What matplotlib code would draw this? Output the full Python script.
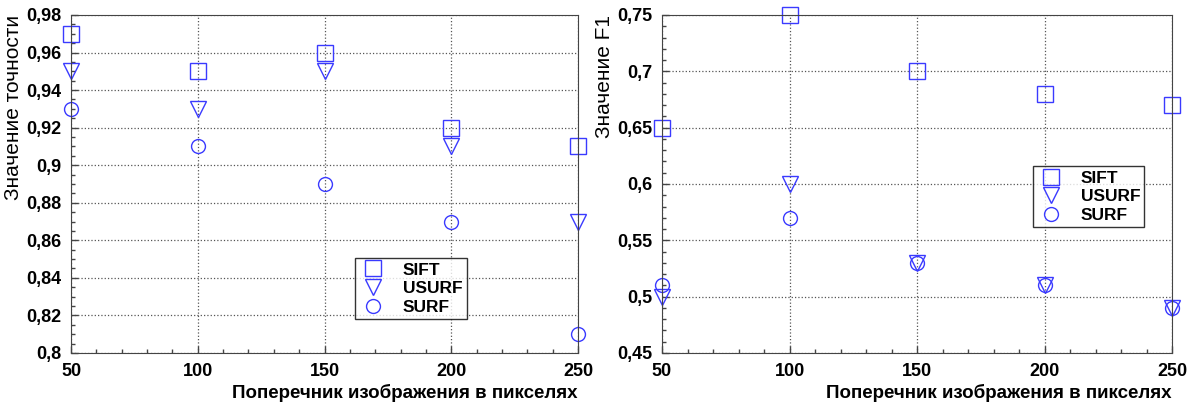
import numpy as np
import matplotlib.pyplot as plt
from matplotlib.ticker import MultipleLocator, FuncFormatter

plt.rcParams['font.family'] = ['Liberation Sans', 'DejaVu Sans']
plt.rcParams['font.weight'] = 'bold'

sizes = [50, 100, 150, 200, 250]

# точность
acc_sift = [0.97, 0.95, 0.96, 0.92, 0.91]
acc_usurf = [0.95, 0.93, 0.95, 0.91, 0.87]
acc_surf = [0.93, 0.91, 0.89, 0.87, 0.81]

# F1
f1_sift = [0.65, 0.75, 0.70, 0.68, 0.67]
f1_usurf = [0.50, 0.60, 0.53, 0.51, 0.49]
f1_surf = [0.51, 0.57, 0.53, 0.51, 0.49]

blue = '#3a3aff'


def comma_fmt(v, pos):
    s = ('%.2f' % v).rstrip('0').rstrip('.')
    return s.replace('.', ',')


def draw(ax, sift, usurf, surf, ylim, ymajor, yminor, ylabel, legend_pos):
    ms = 11
    ax.plot(sizes, sift, 's', ms=ms, mfc='none', mec=blue, mew=1, label='SIFT', clip_on=False)
    ax.plot(sizes, usurf, 'v', ms=ms, mfc='none', mec=blue, mew=1, label='USURF', clip_on=False)
    ax.plot(sizes, surf, 'o', ms=ms - 1, mfc='none', mec=blue, mew=1, label='SURF', clip_on=False)
    ax.set_xlim(50, 250)
    ax.set_ylim(*ylim)
    ax.xaxis.set_major_locator(MultipleLocator(50))
    ax.xaxis.set_minor_locator(MultipleLocator(10))
    ax.yaxis.set_major_locator(MultipleLocator(ymajor))
    ax.yaxis.set_minor_locator(MultipleLocator(yminor))
    ax.yaxis.set_major_formatter(FuncFormatter(comma_fmt))
    ax.tick_params(which='both', direction='in', labelsize=13, width=1, color='#444444')
    ax.tick_params(which='major', length=5, pad=7)
    ax.tick_params(which='minor', length=3)
    ax.grid(True, which='major', linestyle=':', color='#555555', linewidth=0.9)
    for sp in ax.spines.values():
        sp.set_color('#444444')
    ax.set_xlabel('Поперечник изображения в пикселях', fontsize=13.5, fontweight='bold',
                  labelpad=3, loc='right')
    ax.set_ylabel(ylabel, fontsize=15, fontweight='normal', labelpad=2, loc='top')
    leg = ax.legend(loc='upper left', bbox_to_anchor=legend_pos, prop={'weight': 'bold', 'size': 12.5},
                    frameon=True, fancybox=False, edgecolor='black', handletextpad=0.9,
                    borderpad=0.25, labelspacing=0.2, handlelength=1.6, borderaxespad=0)
    leg.get_frame().set_linewidth(1)


fig = plt.figure(figsize=(11.93, 4.03), dpi=100)
ax1 = fig.add_axes([71 / 1193, 1 - 353 / 403, 507 / 1193, 338 / 403])
ax2 = fig.add_axes([662 / 1193, 1 - 353 / 403, 510 / 1193, 338 / 403])

draw(ax1, acc_sift, acc_usurf, acc_surf, (0.8, 0.98), 0.02, 0.005, 'Значение точности',
     (0.56, 0.281))
draw(ax2, f1_sift, f1_usurf, f1_surf, (0.45, 0.75), 0.05, 0.01, 'Значение F1',
     (0.727, 0.553))

fig.savefig('out.png', dpi=100)
